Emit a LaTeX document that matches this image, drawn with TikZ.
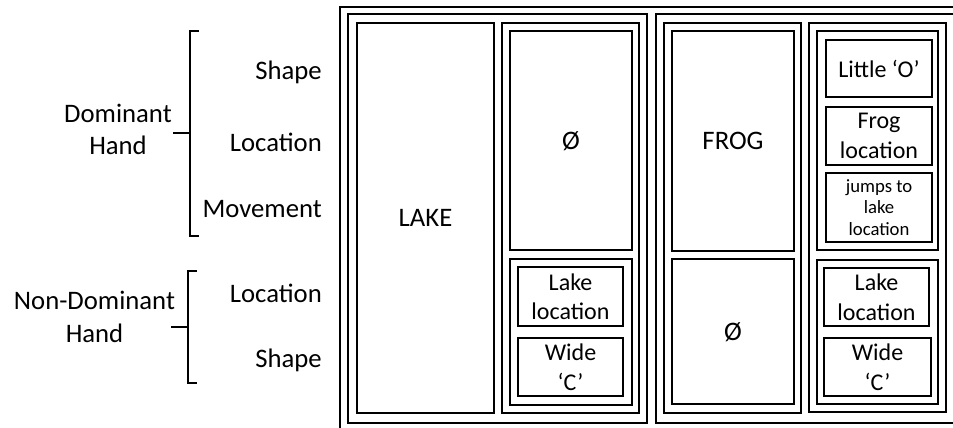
\documentclass[tikz,border=0pt]{standalone}
\usepackage{fontspec}
\setmainfont{Carlito}
\tikzset{
  frame/.style={draw, line width=1.4pt, inner sep=0pt, outer sep=0pt, align=center, text depth=0pt},
  bigtxt/.style={font=\fontsize{26.7}{32}\selectfont},
  midtxt/.style={font=\fontsize{24}{29.5}\selectfont},
  smalltxt/.style={font=\fontsize{18.7}{21.5}\selectfont},
  lbl/.style={font=\fontsize{26.7}{32.5}\selectfont, inner sep=0pt},
  bracket/.style={line width=1.4pt}
}
% #1 options, #2 name, #3 x1, #4 y1, #5 x2, #6 y2, #7 text
\newcommand\mybox[7][]{%
  \node[frame,#1,minimum width={(#5-#3)*1pt},minimum height={(#6-#4)*1pt}] (#2)
    at ({(#3+#5)/2},{(#4+#6)/2}) {#7};}
\begin{document}
\begin{tikzpicture}[x=1pt,y=-1pt]
\useasboundingbox (0,0) rectangle (953,428);
\clip (0,0) rectangle (953,428);
\fill[white] (0,0) rectangle (953,428);
% frames
\mybox{outer}{340}{7}{980}{445}{}
\mybox{leftgrp}{348}{14}{647}{423}{}
\mybox{rightgrp}{656}{14}{980}{423}{}
% left group
\mybox[bigtxt]{lake}{357}{23}{494}{413}{LAKE}
\mybox{lcol}{502}{23}{639}{413}{}
\mybox[bigtxt]{lnull}{510}{31}{632}{250}{Ø}
\mybox{llow}{510}{259}{632}{405}{}
\mybox[midtxt]{lloc}{518}{267}{623}{326}{Lake\\location}
\mybox[midtxt]{lwide}{518}{338}{623}{396}{Wide\\‘C’}
% right group
\mybox{fcol}{664}{23}{801}{413}{}
\mybox[bigtxt]{frog}{672}{31}{794}{251}{FROG}
\mybox[bigtxt]{fnull}{672}{259}{794}{404}{Ø}
\mybox{rcol}{809}{23}{946}{412}{}
\mybox{rup}{817}{31}{938}{250}{}
\mybox[midtxt]{little}{826}{40}{932}{97}{Little ‘O’}
\mybox[midtxt]{floc}{826}{107}{932}{165}{Frog\\location}
\mybox[smalltxt]{jumps}{826}{173}{932}{242}{jumps to\\lake\\location}
\mybox{rlow}{817}{260}{938}{404}{}
\mybox[midtxt]{rloc}{824}{268}{929}{326}{Lake\\location}
\mybox[midtxt]{rwide}{824}{338}{931}{396}{Wide\\‘C’}
% brackets
\coordinate (b1t) at (199,31);
\coordinate (b1b) at (199,236);
\coordinate (b1m) at (173,133);
\draw[bracket] (b1t) -- (190,31) -- (190,236) -- (b1b);
\draw[bracket] (b1m) -- (190,133);
\coordinate (b2t) at (197,271);
\coordinate (b2b) at (197,383);
\coordinate (b2m) at (171,327);
\draw[bracket] (b2t) -- (188,271) -- (188,383) -- (b2b);
\draw[bracket] (b2m) -- (188,327);
% labels
\node[lbl, anchor=base east] (dshape) at (322,79) {Shape};
\node[lbl, anchor=base east] (dloc) at (322,151) {Location};
\node[lbl, anchor=base east] (dmov) at (322,217) {Movement};
\node[lbl, anchor=base east] (nloc) at (322,302) {Location};
\node[lbl, anchor=base east] (nshape) at (322,367) {Shape};
\node[lbl, align=center, text depth=0pt] (dom) at (118,129.5) {Dominant\\Hand};
\node[lbl, align=center, text depth=0pt] (ndom) at (94.5,317) {Non-Dominant\\Hand};
\end{tikzpicture}
\end{document}
